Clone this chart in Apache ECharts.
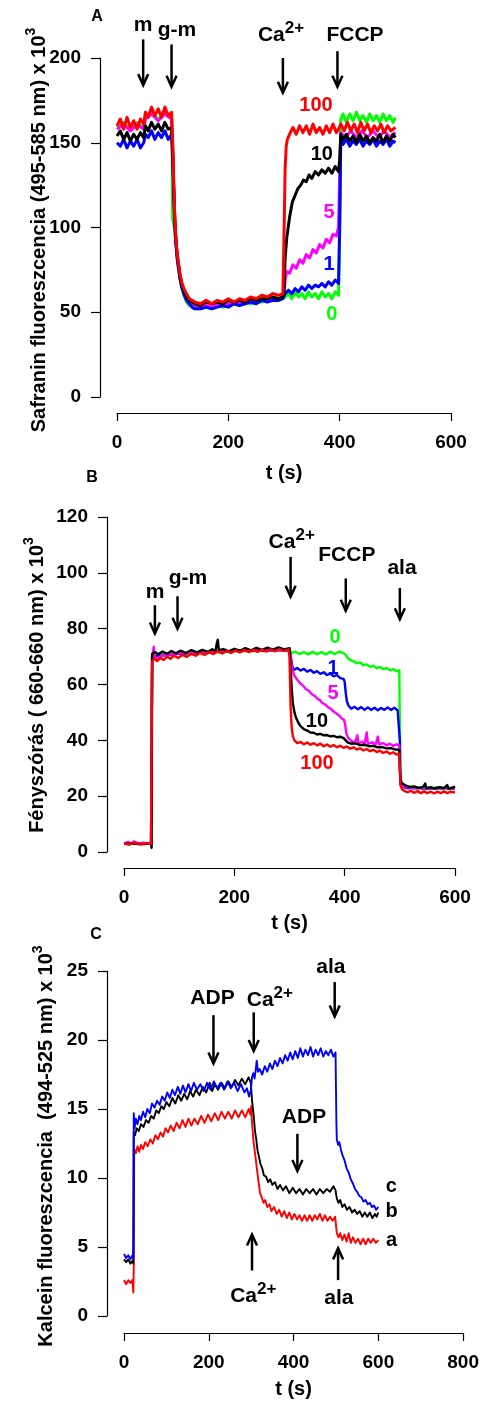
<!DOCTYPE html>
<html><head><meta charset="utf-8">
<script src="https://cdn.jsdelivr.net/npm/echarts@6.0.0/dist/echarts.min.js"></script>
<style>html,body{margin:0;padding:0;background:#fff}#c{width:482px;height:1403px}</style>
</head><body><div id="c"></div>
<script>
// ---------- Panel A: Safranin fluorescence ----------
const A_green = [[0,159],[12,162],[24,158],[36,162],[48,159],[51,165],[62,168],[74,164],[86,168],[98,165],[99,150],[100,105],[103,100],[106,89],[108,82],[110,77],[113,70],[116,65],[120,60],[125,56],[130,54],[135,53],[140,52],[150,52],[160,53],[170,52],[180,54],[190,53],[200,54],[210,55],[220,54],[230,56],[240,55],[250,56],[260,56],[270,57],[280,57],[290,57],[298,58],[302,59],[308,61],[314,58],[320,62],[326,59],[332,61],[338,58],[344,62],[350,59],[356,61],[362,58],[368,62],[374,59],[380,61],[386,58],[392,62],[398,60],[400,61],[401,120],[402,164],[406,167],[412,162],[418,167],[424,163],[430,168],[436,163],[442,166],[448,162],[454,167],[460,163],[466,166],[472,162],[478,167],[484,163],[490,166],[496,162],[500,165]];
const A_magenta = [[0,158],[12,161],[24,157],[36,161],[48,158],[51,164],[62,167],[74,163],[86,167],[98,164],[100,148],[102,123],[104,102],[106,91],[108,84],[110,79],[113,72],[116,67],[120,63],[125,59],[130,56],[135,55],[140,54],[150,53],[160,54],[170,53],[180,55],[190,54],[200,55],[210,55],[220,56],[230,55],[240,57],[250,56],[260,57],[270,57],[280,58],[290,58],[298,59],[300,62],[302,69],[305,74],[310,73],[316,78],[322,76],[328,81],[334,79],[340,84],[346,82],[352,87],[358,85],[364,90],[370,88],[376,93],[382,91],[388,96],[394,95],[398,100],[400,130],[402,156],[410,153],[420,157],[430,153],[440,157],[450,153],[460,157],[470,153],[480,157],[490,153],[500,156]];
const A_blue = [[0,150],[6,148],[12,152],[18,147],[24,151],[30,148],[36,152],[42,147],[48,150],[51,155],[56,153],[62,157],[68,152],[74,156],[80,153],[86,157],[92,152],[98,155],[100,140],[102,120],[104,100],[106,90],[108,82],[110,77],[113,70],[116,65],[120,61],[125,57],[130,55],[135,53],[140,52],[150,52],[160,53],[170,52],[180,53],[190,54],[200,53],[210,55],[220,54],[230,55],[240,56],[250,55],[260,57],[270,56],[280,57],[290,57],[298,58],[302,61],[308,63],[314,61],[320,64],[326,62],[332,65],[338,63],[344,66],[350,64],[356,66],[362,65],[368,67],[374,65],[380,68],[386,66],[392,69],[398,67],[400,100],[402,152],[406,149],[412,152],[418,148],[424,151],[430,149],[436,152],[442,148],[448,151],[454,149],[460,152],[466,148],[472,151],[478,149],[484,152],[490,148],[496,151],[500,150]];
const A_black = [[0,154],[6,157],[12,152],[18,156],[24,151],[30,155],[36,152],[42,156],[48,153],[51,160],[56,157],[62,162],[68,158],[74,161],[80,157],[86,162],[92,158],[98,159],[100,145],[102,122],[104,103],[106,92],[108,84],[110,79],[113,72],[116,67],[120,63],[125,59],[130,57],[135,56],[140,55],[150,54],[160,56],[170,55],[180,56],[190,55],[200,57],[210,56],[220,57],[230,56],[240,58],[250,57],[260,58],[270,58],[280,59],[290,58],[298,59],[300,62],[302,82],[305,94],[310,106],[315,115],[320,119],[325,123],[330,125],[335,128],[340,127],[345,131],[350,129],[356,133],[362,131],[368,134],[374,132],[380,135],[386,132],[392,136],[398,133],[400,140],[402,155],[406,152],[412,155],[418,151],[424,154],[430,150],[436,155],[442,151],[448,154],[454,150],[460,153],[466,151],[472,155],[478,150],[484,154],[490,151],[496,155],[500,153]];
const A_red = [[0,160],[6,164],[12,158],[18,165],[24,159],[30,163],[36,158],[42,164],[48,161],[51,168],[56,165],[62,171],[68,166],[74,170],[80,165],[86,171],[92,166],[98,168],[100,150],[102,125],[104,104],[106,93],[108,85],[110,80],[113,73],[116,68],[120,64],[125,61],[130,58],[135,57],[140,56],[150,55],[160,57],[170,55],[180,57],[190,56],[200,58],[210,56],[220,58],[230,57],[240,59],[250,58],[260,60],[270,59],[280,61],[290,60],[298,61],[300,95],[302,135],[304,148],[306,152],[310,155],[316,159],[322,155],[328,160],[334,156],[340,160],[346,155],[352,161],[358,156],[364,159],[370,155],[376,160],[382,156],[388,161],[394,156],[398,158],[402,161],[408,157],[414,162],[420,157],[426,161],[432,156],[438,162],[444,157],[450,161],[456,156],[462,160],[468,157],[474,161],[480,156],[486,160],[492,157],[500,159]];

// ---------- Panel B: light scattering ----------
const B_green = [[0,3.0],[10,2.7],[20,3.3],[30,2.8],[40,3.2],[49,2.9],[51,69.5],[55,70.8],[62,70.2],[70,71.0],[78,70.4],[86,71.3],[94,70.7],[102,71.5],[112,70.9],[122,71.6],[132,71.0],[142,71.8],[152,71.2],[162,72.0],[172,71.4],[182,72.1],[192,71.5],[202,72.3],[212,71.7],[222,72.4],[232,71.8],[242,72.5],[252,71.9],[262,72.6],[272,72.0],[282,72.7],[292,72.1],[300,72.5],[304,71.2],[310,71.8],[318,70.9],[326,71.6],[334,70.8],[342,71.7],[350,70.9],[358,71.6],[366,70.8],[374,71.7],[382,70.9],[390,71.8],[398,71.2],[402,70.6],[406,69.4],[410,68.8],[416,68.3],[422,67.6],[428,67.9],[434,66.9],[440,67.2],[446,66.3],[452,66.7],[458,65.9],[464,66.3],[470,65.5],[476,65.9],[482,65.1],[488,65.5],[494,64.8],[499,65.0],[500,45],[501,25],[504,23.6],[510,22.8],[518,23.3],[526,22.6],[534,23.2],[542,22.5],[550,23.1],[558,22.6],[566,23.2],[574,22.6],[582,23.1],[590,22.5],[598,23.0],[600,22.8]];
const B_blue = [[0,3.0],[25,2.9],[49,3.0],[51,70],[100,71],[150,71.5],[200,72],[250,72.2],[300,72.3],[302,70.5],[305,66.5],[308,65.2],[314,65.9],[320,65.0],[326,65.6],[332,64.6],[338,65.2],[344,64.2],[350,64.8],[356,63.8],[362,64.4],[368,63.4],[374,63.9],[380,62.9],[386,63.4],[392,62.3],[398,62.0],[400,61.0],[402,57],[404,54],[407,52.4],[412,51.3],[418,52.0],[424,51.1],[430,51.9],[436,50.9],[442,51.8],[448,50.9],[454,51.7],[460,50.8],[466,51.6],[472,50.9],[478,51.8],[484,50.9],[490,51.7],[496,50.8],[499,51.4],[500,40],[501,25],[505,23.4],[515,22.8],[530,23.0],[550,22.7],[575,23.0],[600,22.7]];
const B_magenta = [[0,3.1],[8,3.6],[12,2.9],[18,3.8],[25,3.0],[35,3.3],[49,3.0],[51,69.5],[54,73.5],[56,69],[70,70.5],[100,71.2],[150,71.6],[200,72],[250,72.3],[300,72.4],[302,69.5],[305,65.5],[308,63.5],[312,62.3],[316,61.2],[320,60.3],[325,59.5],[330,58.3],[335,57.8],[340,56.6],[345,56.0],[350,55.0],[355,54.4],[360,53.3],[365,52.8],[370,51.8],[375,51.3],[380,50.3],[385,49.6],[390,48.9],[395,47.8],[399,47.3],[401,45.5],[403,42.5],[406,41.0],[410,40.1],[415,39.3],[420,39.8],[423,41.8],[425,38.9],[432,39.5],[436,38.6],[440,42.8],[442,38.7],[450,39.3],[456,38.4],[460,41.3],[462,38.6],[470,39.0],[476,38.2],[482,38.8],[488,38.0],[494,38.6],[499,38.1],[500,32],[501,25],[505,23.5],[520,23.0],[550,22.8],[600,22.9]];
const B_black = [[0,2.9],[15,3.1],[30,2.8],[49,3.0],[50,1.5],[51,71.0],[56,71.6],[62,70.8],[70,71.8],[78,71.0],[86,72.0],[94,71.2],[102,72.1],[112,71.3],[122,72.3],[132,71.5],[142,72.4],[152,71.7],[160,72.6],[166,71.9],[168,74.5],[170,76.0],[172,72.3],[180,72.7],[190,71.9],[200,72.8],[210,72.1],[220,73.0],[230,72.2],[240,73.1],[250,72.4],[260,73.2],[270,72.5],[280,73.3],[290,72.6],[300,73.0],[302,66],[304,58.5],[306,53.5],[309,50.0],[312,48.0],[316,46.3],[320,45.1],[326,44.0],[332,43.5],[338,42.8],[344,42.7],[350,42.1],[356,42.3],[362,41.8],[368,41.9],[374,41.4],[380,41.6],[386,41.1],[392,41.3],[398,40.8],[402,40.0],[406,39.2],[412,38.8],[420,38.9],[428,38.3],[436,38.4],[444,37.9],[452,38.0],[460,37.5],[468,37.6],[476,37.1],[484,37.2],[492,36.7],[499,36.6],[500,30],[501,26],[504,24.6],[510,23.9],[518,23.3],[526,23.5],[534,22.9],[542,23.3],[546,24.5],[548,22.8],[556,23.2],[564,22.7],[572,23.2],[580,22.8],[586,24.0],[588,22.7],[596,23.1],[600,23.4]];
const B_red = [[0,3.0],[10,2.7],[20,3.3],[30,2.8],[40,3.1],[49,2.9],[51,68.2],[55,69.4],[60,68.4],[66,69.6],[72,68.8],[78,70.0],[84,69.2],[90,70.3],[98,69.5],[106,70.6],[114,69.9],[122,71.0],[130,70.3],[138,71.3],[146,70.6],[154,71.6],[162,70.9],[170,71.9],[178,71.1],[186,72.0],[194,71.3],[202,72.2],[210,71.5],[218,72.4],[226,71.6],[234,72.5],[242,71.7],[250,72.5],[258,71.8],[266,72.6],[274,71.9],[282,72.7],[290,72.0],[298,72.6],[300,70],[302,52],[304,44.5],[306,41.5],[309,40.0],[314,39.0],[320,39.4],[326,38.6],[332,39.2],[338,38.4],[344,39.0],[350,38.2],[356,38.8],[362,37.9],[368,38.5],[374,37.7],[380,38.3],[386,37.5],[392,38.1],[398,37.3],[404,37.8],[410,37.0],[416,37.5],[422,36.7],[428,37.2],[434,36.4],[440,36.9],[446,36.1],[452,36.6],[458,35.8],[464,36.3],[470,35.5],[476,36.0],[482,35.2],[488,35.7],[494,34.9],[499,35.2],[500,30],[501,24],[504,22.5],[508,21.9],[514,21.4],[520,21.9],[526,21.2],[532,21.8],[538,21.1],[544,21.7],[550,21.1],[556,21.6],[562,21.0],[568,21.6],[574,21.1],[580,21.7],[586,21.1],[592,21.6],[600,21.3]];

// ---------- Panel C: calcein fluorescence ----------
const C_red = [[0,2.6],[5,2.3],[10,2.6],[15,2.4],[20,2.6],[22,1.7],[23,3.5],[24,12.1],[28,11.8],[32,12.3],[36,11.9],[40,12.4],[45,12.1],[50,12.6],[56,12.3],[62,12.8],[68,12.5],[74,13.1],[80,12.8],[86,13.3],[92,13.0],[98,13.6],[104,13.3],[110,13.8],[117,13.4],[124,14.0],[131,13.6],[138,14.2],[145,13.7],[152,14.3],[159,13.8],[166,14.3],[174,13.9],[182,14.5],[190,14.0],[198,14.6],[206,14.1],[214,14.7],[222,14.2],[230,14.8],[238,14.3],[246,14.8],[254,14.3],[262,14.9],[270,14.4],[278,14.9],[286,14.4],[294,15.0],[298,14.6],[300,15.2],[302,14.0],[305,12.8],[309,11.8],[313,10.8],[317,9.8],[321,8.9],[325,8.6],[329,8.2],[333,8.4],[338,7.9],[343,8.1],[348,7.6],[354,7.9],[360,7.4],[366,7.7],[372,7.2],[378,7.6],[384,7.1],[390,7.5],[396,7.0],[402,7.4],[408,7.0],[414,7.3],[420,6.9],[426,7.3],[432,6.9],[438,7.3],[444,6.9],[450,7.3],[456,7.0],[462,7.4],[468,6.9],[474,7.3],[480,6.9],[486,7.2],[492,6.9],[498,7.2],[500,6.6],[502,6.0],[506,5.7],[510,6.0],[515,5.5],[520,5.9],[525,5.4],[530,6.0],[535,5.3],[540,5.7],[546,5.3],[552,5.6],[558,5.2],[564,5.6],[570,5.2],[576,5.6],[582,5.3],[588,5.6],[594,5.3],[600,5.5]];
const C_black = [[0,4.1],[5,3.9],[10,4.1],[15,3.8],[20,4.0],[22,3.8],[23,13.3],[26,13.1],[30,13.6],[35,13.4],[40,13.9],[46,13.7],[52,14.2],[58,14.0],[64,14.5],[70,14.3],[76,14.9],[82,14.7],[88,15.2],[94,15.0],[100,15.5],[107,15.2],[114,15.8],[121,15.4],[128,16.0],[135,15.6],[142,16.1],[149,15.7],[156,16.3],[163,15.9],[170,16.4],[178,16.0],[186,16.6],[194,16.2],[202,16.9],[208,16.3],[214,16.8],[222,16.4],[230,16.9],[238,16.5],[246,17.0],[254,16.6],[262,17.1],[270,16.7],[278,17.2],[286,16.8],[294,17.3],[299,16.9],[302,15.6],[306,14.5],[309,13.4],[312,12.8],[315,12.0],[318,11.6],[322,11.0],[326,10.7],[330,10.2],[335,10.1],[340,9.7],[345,9.9],[350,9.5],[356,9.7],[362,9.2],[368,9.5],[375,9.1],[382,9.4],[390,8.9],[398,9.3],[406,8.9],[414,9.2],[422,8.8],[430,9.2],[438,8.9],[446,9.2],[454,8.8],[462,9.2],[470,8.9],[478,9.2],[486,9.0],[494,9.4],[499,9.1],[502,8.5],[506,8.2],[510,8.4],[515,7.9],[520,8.1],[526,7.7],[532,7.9],[538,7.5],[544,7.7],[550,7.4],[556,7.6],[562,7.2],[568,7.5],[574,7.2],[580,7.5],[586,7.1],[592,7.4],[596,7.2],[600,7.5]];
const C_blue = [[0,4.5],[5,4.2],[10,4.4],[15,4.1],[20,4.4],[22,4.2],[23,14.7],[25,13.6],[28,14.3],[32,13.9],[36,14.5],[40,14.2],[45,14.8],[50,14.4],[55,15.0],[61,14.7],[66,15.4],[72,15.1],[78,15.6],[84,15.3],[90,15.9],[96,15.6],[102,16.2],[108,15.8],[114,16.4],[120,16.0],[127,16.6],[133,16.1],[139,16.7],[145,16.2],[152,16.8],[158,16.3],[165,16.9],[172,16.4],[180,16.8],[188,16.3],[196,16.9],[204,16.4],[212,17.0],[220,16.5],[228,16.9],[236,16.4],[244,17.0],[252,16.5],[260,16.9],[268,16.3],[276,16.8],[284,16.2],[290,16.5],[295,15.9],[299,16.3],[302,17.3],[305,17.6],[308,17.2],[311,17.9],[313,18.5],[316,17.7],[320,17.9],[326,17.5],[332,18.1],[338,17.7],[344,18.3],[350,17.9],[356,18.5],[362,18.1],[368,18.7],[374,18.3],[380,18.9],[386,18.5],[392,19.1],[398,18.6],[404,19.2],[410,18.7],[416,19.4],[422,18.8],[428,19.3],[434,18.9],[440,19.5],[446,18.8],[452,19.3],[458,18.9],[464,19.4],[470,18.8],[476,19.2],[482,18.9],[488,19.3],[494,18.8],[499,19.1],[501,14.0],[502,12.8],[505,12.4],[508,12.6],[512,12.0],[516,11.6],[520,11.3],[525,10.7],[530,10.4],[535,9.9],[540,9.6],[545,9.2],[550,9.0],[555,8.7],[560,8.6],[565,8.3],[570,8.4],[575,8.1],[580,8.2],[585,7.9],[590,8.0],[595,7.7],[600,7.9]];

// Axis ranges
const axisA = {xMax: 600, xStep: 200, yMax: 200, yStep: 50};
const axisB = {xMax: 600, xStep: 200, yMax: 120, yStep: 20};
const axisC = {xMax: 800, xStep: 200, yMax: 25, yStep: 5};

// Annotation arrows: [t, value at tail, value at tip]
const arrowsA = [[47,211,184],[98,208,183],[298,200,179.5],[396,204,183]];
const arrowsB = [[56,88.4,78.3],[97,91.6,80],[302,105.7,91.4],[402,98,86.4],[500,94.6,83.4]];
const arrowsC = [[211,21.8,18.3],[306,22,19.2],[497,24.2,21.7],[409,13.2,10.5],[302,3.3,5.9],[505,2.6,4.9]];
// Annotation texts: [text, t, value]
const textsA = [['m',46.7,219.5],['g-m',107.8,216.5],['CA',294.6,213.5],['FCCP',427.5,213.6]];
const textsB = [['m',56.2,93.2],['g-m',116,98],['CA',304,111.2],['FCCP',404,106.3],['ala',504,101.7]];
const textsC = [['ADP',208.8,23.04],['CA',344,22.9],['ala',488,25.3],['ADP',424.6,14.44],['CA',305,1.45],['ala',506.7,1.3]];
// Trace labels: [text, t, value, colour]
const traceLabelsA = [['100',357.5,171.7,'#ff0000'],['10',368,142.8,'#000000'],['5',380.8,108.6,'#ff00ff'],['1',380.8,77.9,'#0000ff'],['0',386,48.4,'#00ff00']];
const traceLabelsB = [['0',382.4,77,'#00ff00'],['1',378.8,65.8,'#0000ff'],['5',378.8,56.9,'#ff00ff'],['10',349.8,46.6,'#000000'],['100',349.8,31.8,'#ff0000']];
const traceLabelsC = [['c',630.3,9.42,'#000000'],['b',631,7.56,'#000000'],['a',631,5.46,'#000000']];

const FONT = '"Liberation Sans", Arial, sans-serif';
const chart = echarts.init(document.getElementById('c'), null, {renderer: 'canvas'});

const grids = [
  {left:117, top:58, width:334, height:339},
  {left:124, top:517, width:331, height:335},
  {left:124, top:971, width:341, height:345}
];
const axes = [axisA, axisB, axisC];
const xOffsets = [16, 16, 17];
const yOffsets = [17, 17, 17];
const xNameGaps = [50, 45, 46];
const traceWidths = [3, 2.4, 1.9];

const lineCol = '#000';
const xAxis = axes.map((a, i) => ({
  type:'value', gridIndex:i, min:0, max:a.xMax, interval:a.xStep, offset:xOffsets[i],
  axisLine:{show:true, onZero:false, lineStyle:{color:lineCol, width:1.2}},
  axisTick:{show:true, length:8, lineStyle:{color:lineCol, width:1.2}},
  axisLabel:{margin:20, color:'#000', fontFamily:FONT, fontWeight:'bold', fontSize:19},
  splitLine:{show:false},
  name:'t (s)', nameLocation:'middle', nameGap:xNameGaps[i],
  nameTextStyle:{color:'#000', fontFamily:FONT, fontWeight:'bold', fontSize:20}
}));
const yAxis = axes.map((a, i) => ({
  type:'value', gridIndex:i, min:0, max:a.yMax, interval:a.yStep, offset:yOffsets[i],
  axisLine:{show:true, onZero:false, lineStyle:{color:lineCol, width:1.2}},
  axisTick:{show:true, length:9, lineStyle:{color:lineCol, width:1.2}},
  axisLabel:{margin:19, color:'#000', fontFamily:FONT, fontWeight:'bold', fontSize:19},
  splitLine:{show:false}
}));

function ser(gi, data, color, z) {
  return {type:'line', xAxisIndex:gi, yAxisIndex:gi, data:data, showSymbol:false, symbol:'none',
    lineStyle:{color:color, width:traceWidths[gi], join:'round'}, itemStyle:{color:color}, z:z, animation:false, silent:true};
}
const series = [
  ser(0, A_green, '#00ff00', 2), ser(0, A_magenta, '#ff00ff', 3), ser(0, A_blue, '#0000ff', 4),
  ser(0, A_black, '#000000', 5), ser(0, A_red, '#ff0000', 6),
  ser(1, B_green, '#00ff00', 2), ser(1, B_blue, '#0000ff', 3), ser(1, B_magenta, '#ff00ff', 4),
  ser(1, B_black, '#000000', 5), ser(1, B_red, '#ff0000', 6),
  ser(2, C_red, '#ff0000', 2), ser(2, C_black, '#000000', 3), ser(2, C_blue, '#0000ff', 4)
];

chart.setOption({animation:false, backgroundColor:'#fff', grid:grids, xAxis:xAxis, yAxis:yAxis, series:series});

// ---------- annotations (graphic) ----------
const rich = {
  n:{fontSize:21, fontWeight:'bold', fontFamily:FONT, fill:'#000', lineHeight:22, padding:[9,0,0,0]},
  s:{fontSize:17, fontWeight:'bold', fontFamily:FONT, fill:'#000', lineHeight:18, verticalAlign:'top'}
};
const richT = {
  n:{fontSize:20, fontWeight:'bold', fontFamily:FONT, fill:'#000', lineHeight:22, padding:[8,0,0,0]},
  s:{fontSize:14, fontWeight:'bold', fontFamily:FONT, fill:'#000', lineHeight:16, verticalAlign:'top'}
};
function px(gi, t, v) { return chart.convertToPixel({gridIndex:gi}, [t, v]); }
function txt(x, y, text, opt) {
  return Object.assign({type:'text', x:x, y:y, silent:true, z:50,
    style:Object.assign({text:text, align:'center', verticalAlign:'middle', fill:'#000',
      font:'bold 21px ' + FONT}, opt || {})});
}
const g = [];
function arrows(gi, list) {
  list.forEach(a => {
    const p0 = px(gi, a[0], a[1]), p1 = px(gi, a[0], a[2]);
    const d = Math.sign(p1[1] - p0[1]);
    g.push({type:'line', silent:true, z:50, shape:{x1:p0[0], y1:p0[1], x2:p1[0], y2:p1[1]}, style:{stroke:'#000', lineWidth:2.5}});
    g.push({type:'polyline', silent:true, z:50, shape:{points:[[p1[0]-5, p1[1]-d*11],[p1[0], p1[1]],[p1[0]+5, p1[1]-d*11]]}, style:{stroke:'#000', lineWidth:2.5, fill:null}});
  });
}
function texts(gi, list) {
  list.forEach(a => {
    const p = px(gi, a[1], a[2]);
    if (a[0] === 'CA') g.push(txt(p[0], p[1] - 4, '{n|Ca}{s|2+}', {rich:rich}));
    else g.push(txt(p[0], p[1], a[0]));
  });
}
function tlabels(gi, list) {
  list.forEach(a => { const p = px(gi, a[1], a[2]); g.push(txt(p[0], p[1], a[0], {fill:a[3], font:'bold 20px ' + FONT})); });
}
arrows(0, arrowsA); arrows(1, arrowsB); arrows(2, arrowsC);
texts(0, textsA); texts(1, textsB); texts(2, textsC);
tlabels(0, traceLabelsA); tlabels(1, traceLabelsB); tlabels(2, traceLabelsC);

// Panel letters
g.push(txt(97, 17, 'A', {font:'bold 16px ' + FONT}));
g.push(txt(92, 478, 'B', {font:'bold 16px ' + FONT}));
g.push(txt(96, 935, 'C', {font:'bold 16px ' + FONT}));

// Y-axis titles (rotated)
const yTitles = [
  ['Safranin fluoreszcencia (495-585 nm) x 10', 35, 230],
  ['Fényszórás ( 660-660 nm) x 10', 33, 685],
  ['Kalcein fluoreszcencia  (494-525 nm) x 10', 42, 1146]
];
yTitles.forEach(t => {
  g.push({type:'text', x:t[1], y:t[2], rotation:Math.PI/2, silent:true, z:50,
    style:{text:'{n|' + t[0] + '}{s|3}', rich:richT, align:'center', verticalAlign:'middle', fill:'#000'}});
});

chart.setOption({graphic:{elements:g}});
</script></body></html>
